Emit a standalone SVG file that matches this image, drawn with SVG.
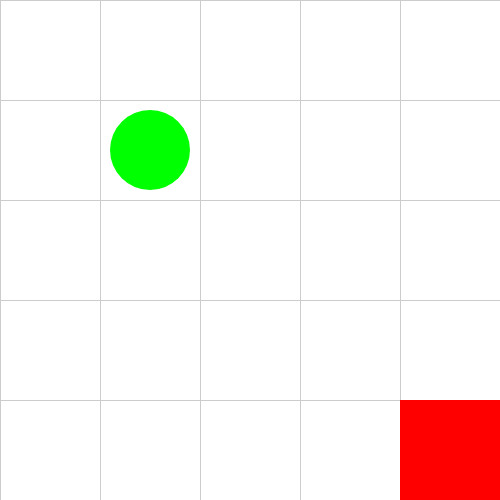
<svg xmlns="http://www.w3.org/2000/svg" width="500" height="500" viewBox="0 0 500 500">
<style>.g{stroke:#cccccc;stroke-width:1;fill:none}</style>
<rect width="500" height="500" fill="#ffffff"/>
<g id="grid" class="g">
<path d="M0.5 0V500M100.5 0V500M200.5 0V500M300.5 0V500M400.5 0V500M0 0.5H500M0 100.5H500M0 200.5H500M0 300.5H500M0 400.5H500"/>
</g>
<g id="goal"><rect x="400" y="400" width="100" height="100" fill="#ff0000"/></g>
<g id="agent"><circle cx="150" cy="150" r="40" fill="#00ff00"/></g>
</svg>
